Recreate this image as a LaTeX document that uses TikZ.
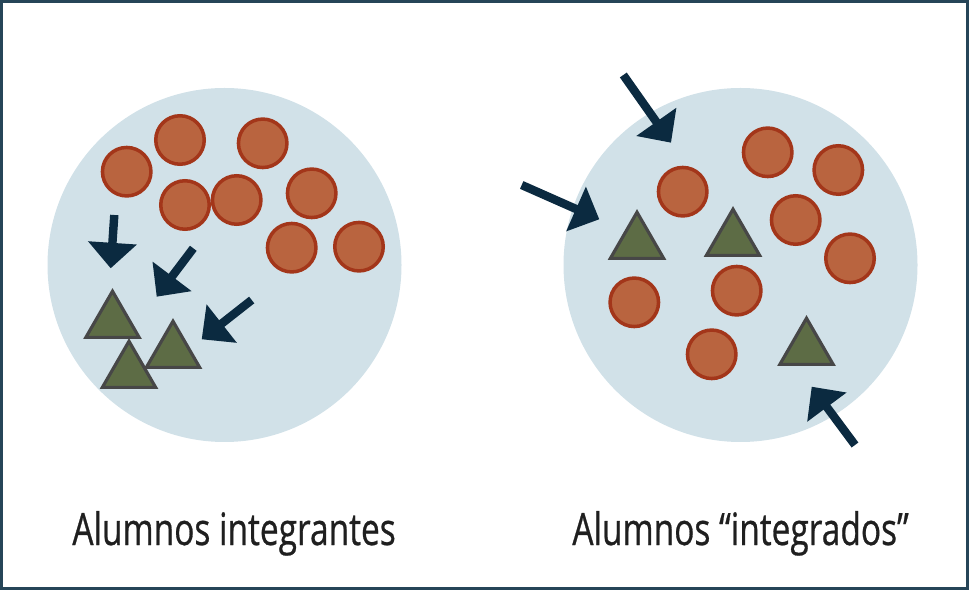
\documentclass[tikz,border=0pt]{standalone}
\usepackage{fontspec}
\setmainfont{Open Sans}[FakeStretch=0.75, FakeBold=0.6]
\usetikzlibrary{arrows.meta,shapes.geometric}
\definecolor{bubble}{HTML}{D1E1E8}
\definecolor{ballfill}{HTML}{B9643F}
\definecolor{ballline}{HTML}{A3361A}
\definecolor{trifill}{HTML}{5D6C45}
\definecolor{triline}{HTML}{474747}
\definecolor{arrowcol}{HTML}{0B2A40}
\definecolor{framecol}{HTML}{264558}
\tikzset{
  ball/.style={circle, draw=ballline, fill=ballfill, line width=2pt, inner sep=0pt, minimum size=27.6pt},
  tri/.style={regular polygon, regular polygon sides=3, draw=triline, fill=trifill, line width=1.8pt, inner sep=0pt, minimum size=35pt},
  push/.style={draw=arrowcol, line width=4.8pt, -{Triangle[width=27pt,length=14.5pt]}},
  label/.style={anchor=base west, inner sep=0pt, font=\fontsize{25.4}{30}\selectfont, text=black!88}
}
\begin{document}
\begin{tikzpicture}[x=0.02cm, y=-0.02cm]
\useasboundingbox (0,0) rectangle (969,590);
\draw[framecol, line width=1.7pt] (1.5,1.5) rectangle (967.5,588.5);
% two groups
\fill[bubble] (224.5,265) circle (177);
\fill[bubble] (740.5,265) circle (177);
% left group
\node[ball] (l1) at (126.7,171.7) {};
\node[ball] (l2) at (180,140) {};
\node[ball] (l3) at (262.7,143.3) {};
\node[ball] (l4) at (185,205) {};
\node[ball] (l5) at (236.7,200) {};
\node[ball] (l6) at (311.7,193.3) {};
\node[ball] (l7) at (291.7,247.7) {};
\node[ball] (l8) at (359,246.7) {};
\node[tri] (lt1) at (112.5,322) {};
\node[tri] (lt2) at (173,352) {};
\node[tri] (lt3) at (129,372) {};
\coordinate (la1) at (114.3,215);  \coordinate (lb1) at (110.7,268.3);
\coordinate (la2) at (193.3,248.3); \coordinate (lb2) at (156.7,296.7);
\coordinate (la3) at (251.7,300);  \coordinate (lb3) at (201.7,339.3);
\draw[push] (la1) -- (lb1);
\draw[push] (la2) -- (lb2);
\draw[push] (la3) -- (lb3);
% right group
\node[ball] (r1) at (682.7,191.7) {};
\node[ball] (r2) at (767.7,152.3) {};
\node[ball] (r3) at (838.3,170) {};
\node[ball] (r4) at (795.7,220) {};
\node[ball] (r5) at (850,258.3) {};
\node[ball] (r6) at (634.3,302.3) {};
\node[ball] (r7) at (736.7,290.7) {};
\node[ball] (r8) at (711.7,354.3) {};
\node[tri] (rt1) at (637,243) {};
\node[tri] (rt2) at (733,240) {};
\node[tri] (rt3) at (806.5,349) {};
\coordinate (ra1) at (623.3,75);  \coordinate (rb1) at (671,142.7);
\coordinate (ra2) at (521.7,185); \coordinate (rb2) at (599.3,219.3);
\coordinate (ra3) at (855,445);   \coordinate (rb3) at (811.7,386.7);
\draw[push] (ra1) -- (rb1);
\draw[push] (ra2) -- (rb2);
\draw[push] (ra3) -- (rb3);
% captions
\node[label] (cap1) at (72,545) {Alumnos integrantes};
\node[label] (cap2) at (572,545) {Alumnos “integrados”};
\end{tikzpicture}
\end{document}
